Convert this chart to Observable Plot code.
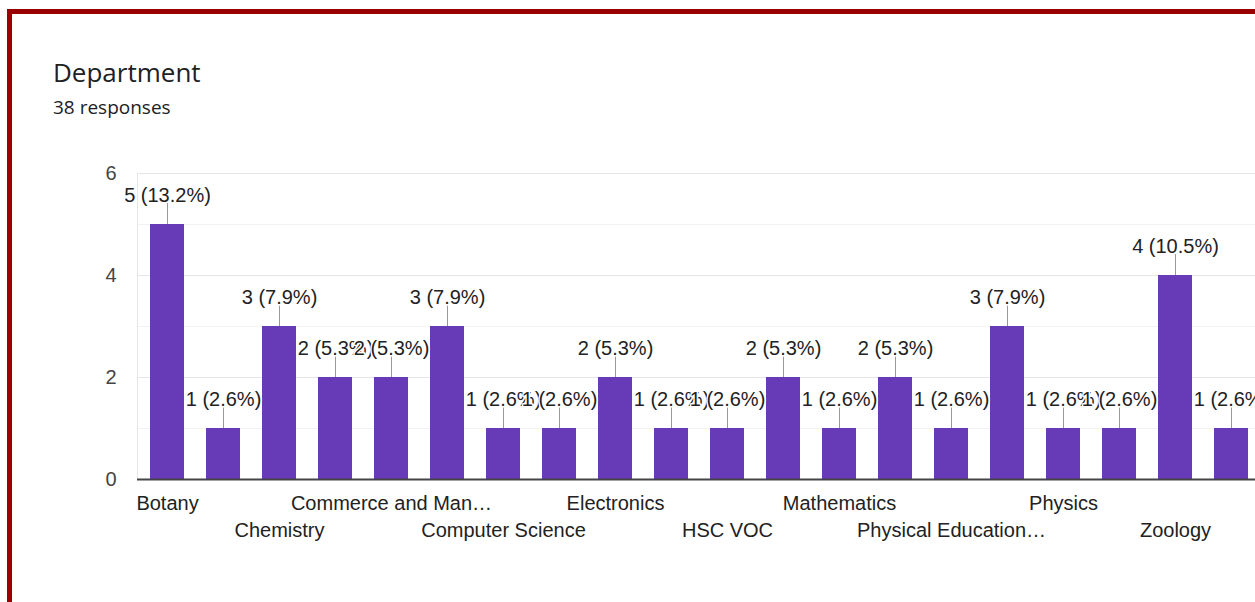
<!DOCTYPE html>
<html>
<head>
<meta charset="utf-8">
<script src="https://cdn.jsdelivr.net/npm/d3@7"></script>
<script src="https://cdn.jsdelivr.net/npm/@observablehq/plot@0.6"></script>
<style>
  html, body { margin: 0; padding: 0; background: #fff; width: 1255px; height: 602px; overflow: hidden; position: relative; }
  #frame { position: absolute; left: 7px; top: 9px; width: 2000px; height: 2000px; border-left: 5px solid #9a0000; border-top: 5px solid #9a0000; box-sizing: border-box; }
  #title { position: absolute; left: 53px; top: 58.6px; font-family: "Open Sans", Roboto, sans-serif; font-size: 26px; line-height: 1; color: #202124; white-space: nowrap; }
  #subtitle { position: absolute; left: 53px; top: 98px; font-family: "Open Sans", Roboto, sans-serif; font-size: 19px; line-height: 1; color: #202124; white-space: nowrap; }
  #chart { position: absolute; left: 0; top: 140px; width: 1300px; }
  #chart svg { max-width: none !important; }
</style>
</head>
<body>
<div id="frame"></div>
<div id="title">Department</div>
<div id="subtitle">38 responses</div>
<div id="chart"></div>
<script>
// Categories (names of unlabelled bars are guesses; only every other label is shown)
const categories = [
  "Botany", "Business Administration", "Chemistry", "Commerce",
  "Commerce and Management", "Computer Application", "Computer Science", "Economics",
  "Electronics", "English", "HSC VOC", "Malayalam",
  "Mathematics", "Microbiology", "Physical Education and Sports", "Physical Science",
  "Physics", "Statistics", "Zoology", "Zoology PG"
];
const counts = [5, 1, 3, 2, 2, 3, 1, 1, 2, 1, 1, 2, 1, 2, 1, 3, 1, 1, 4, 1];
const totalResponses = 38;
// Displayed tick labels (truncated like the original)
const tickLabels = [
  "Botany", "", "Chemistry", "", "Commerce and Man…", "", "Computer Science", "",
  "Electronics", "", "HSC VOC", "", "Mathematics", "", "Physical Education…", "",
  "Physics", "", "Zoology", ""
];
const yTicks = [0, 2, 4, 6];
const majorGrid = [2, 4, 6];
const minorGrid = [1, 3, 5];

const data = categories.map((c, i) => ({
  category: c,
  value: counts[i],
  label: `${counts[i]} (${(counts[i] / totalResponses * 100).toFixed(1)}%)`
}));
const labelOf = new Map(categories.map((c, i) => [c, tickLabels[i]]));
const row1 = categories.filter((c, i) => i % 4 === 0);
const row2 = categories.filter((c, i) => i % 4 === 2);

const font = "'Liberation Sans', Arial, sans-serif";
const chart = Plot.plot({
  width: 1300,
  height: 419,
  marginLeft: 137,
  marginRight: 40,
  marginTop: 33,
  marginBottom: 80,
  style: { fontFamily: font, fontSize: "20px", background: "transparent", overflow: "visible", maxWidth: "none" },
  x: { domain: categories, paddingInner: 0.4, paddingOuter: 0.2, axis: null },
  y: { domain: [0, 6], axis: null },
  marks: [
    Plot.ruleY(minorGrid, { stroke: "#f2f2f2", strokeWidth: 1 }),
    Plot.ruleY(majorGrid, { stroke: "#e6e6e6", strokeWidth: 1 }),
    Plot.frame({ stroke: "#e6e6e6", strokeWidth: 1 }),
    Plot.barY(data, { x: "category", y: "value", fill: "#673ab7" }),
    Plot.ruleY([0], { stroke: "#444", strokeWidth: 2 }),
    Plot.ruleX(data, { x: "category", y1: "value", y2: d => d.value + 0.41, stroke: "#999", strokeWidth: 1 }),
    Plot.text(data, {
      x: "category", y: "value", text: "label",
      dy: -23, lineAnchor: "bottom", textAnchor: "middle",
      fontSize: 20, fill: "#222", stroke: "white", strokeWidth: 3
    }),
    Plot.axisY(yTicks, { anchor: "left", tickSize: 0, tickPadding: 21, fontSize: 20, fill: "#444", label: null, tickFormat: d => String(d) }),
    Plot.axisX(row1, { anchor: "bottom", tickSize: 0, tickPadding: 16, fontSize: 20, fill: "#222", label: null, tickFormat: c => labelOf.get(c) }),
    Plot.axisX(row2, { anchor: "bottom", tickSize: 0, tickPadding: 43, fontSize: 20, fill: "#222", label: null, tickFormat: c => labelOf.get(c) })
  ]
});
document.getElementById("chart").appendChild(chart);
</script>
</body>
</html>
